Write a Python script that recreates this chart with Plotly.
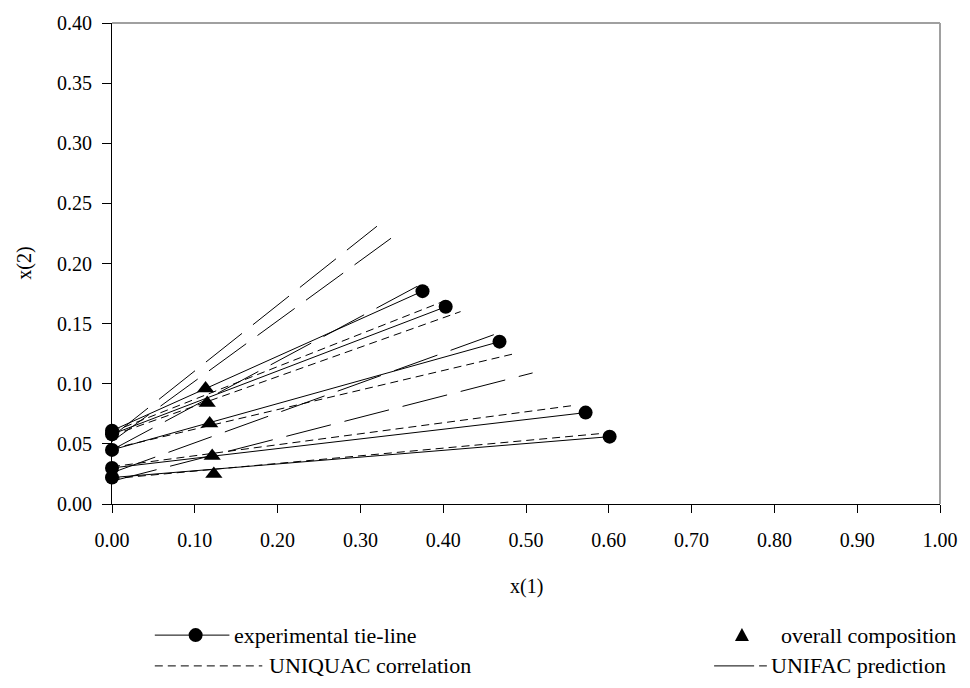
import plotly.graph_objects as go

# Experimental tie-lines: raffinate end (left) and extract end (right)
tie_x_left = [0.0, 0.0, 0.0, 0.0, 0.0]
tie_y_left = [0.061, 0.058, 0.045, 0.030, 0.022]
tie_x_right = [0.375, 0.403, 0.468, 0.572, 0.601]
tie_y_right = [0.177, 0.164, 0.135, 0.076, 0.056]

# Overall (feed) compositions
feed_x = [0.113, 0.115, 0.118, 0.121, 0.123]
feed_y = [0.096, 0.084, 0.067, 0.040, 0.025]

# UNIQUAC correlated tie-lines
uniquac_x_left = [0.0, 0.0, 0.0, 0.0, 0.0]
uniquac_y_left = [0.060, 0.057, 0.046, 0.031, 0.021]
uniquac_x_right = [0.402, 0.421, 0.486, 0.558, 0.597]
uniquac_y_right = [0.169, 0.160, 0.125, 0.082, 0.059]

# UNIFAC predicted tie-lines
unifac_x_left = [0.0, 0.0, 0.0, 0.0, 0.0]
unifac_y_left = [0.056, 0.052, 0.045, 0.026, 0.019]
unifac_x_right = [0.320, 0.337, 0.374, 0.462, 0.508]
unifac_y_right = [0.231, 0.221, 0.183, 0.141, 0.109]

x_ticks = [i / 10 for i in range(11)]
y_ticks = [i * 0.05 for i in range(9)]

FONT = "Liberation Serif"
FS_TICK = 20
FS_TITLE = 20
FS_LEGEND = 22

fig = go.Figure()

for xl, yl, xr, yr in zip(unifac_x_left, unifac_y_left, unifac_x_right, unifac_y_right):
    fig.add_trace(go.Scatter(x=[xl, xr], y=[yl, yr], mode="lines",
                             line=dict(color="black", width=1, dash="46px,14px"),
                             showlegend=False, hoverinfo="skip"))

for xl, yl, xr, yr in zip(uniquac_x_left, uniquac_y_left, uniquac_x_right, uniquac_y_right):
    fig.add_trace(go.Scatter(x=[xl, xr], y=[yl, yr], mode="lines",
                             line=dict(color="black", width=1, dash="8px,5px"),
                             showlegend=False, hoverinfo="skip"))

for xl, yl, xr, yr in zip(tie_x_left, tie_y_left, tie_x_right, tie_y_right):
    fig.add_trace(go.Scatter(x=[xl, xr], y=[yl, yr], mode="lines+markers",
                             line=dict(color="black", width=1),
                             marker=dict(symbol="circle", size=14, color="black"),
                             cliponaxis=False, showlegend=False, hoverinfo="skip"))

fig.add_trace(go.Scatter(x=feed_x, y=feed_y, mode="markers",
                         marker=dict(symbol="triangle-up", size=15, color="black"),
                         cliponaxis=False, showlegend=False, hoverinfo="skip"))

axis_common = dict(showgrid=False, zeroline=False, showline=True, linecolor="black",
                   linewidth=1, ticks="outside", tickcolor="black", tickwidth=1,
                   tickformat=".2f", tickfont=dict(family=FONT, size=FS_TICK, color="black"))

fig.update_xaxes(range=[0, 1], tickvals=x_ticks, ticklen=8, ticklabelstandoff=10,
                 **axis_common)
fig.update_yaxes(range=[0, 0.4], tickvals=y_ticks, ticklen=9, ticklabelstandoff=6,
                 **axis_common)

shapes = [
    # grey frame on top and right
    dict(type="line", xref="paper", yref="paper", x0=0, x1=1, y0=1, y1=1,
         line=dict(color="#a0a0a0", width=2)),
    dict(type="line", xref="paper", yref="paper", x0=1, x1=1, y0=0, y1=1,
         line=dict(color="#a0a0a0", width=2)),
]

# Legend drawn below the plot area
row1 = -0.2726
row2 = -0.3366
shapes += [
    dict(type="line", xref="paper", yref="paper", x0=0.0517, x1=0.1418, y0=row1, y1=row1,
         line=dict(color="black", width=1)),
    dict(type="circle", xref="paper", yref="paper", xsizemode="pixel", ysizemode="pixel",
         xanchor=0.101, yanchor=row1, x0=-7, x1=7, y0=-7, y1=7,
         fillcolor="black", line=dict(color="black", width=0)),
    dict(type="path", xref="paper", yref="paper", xsizemode="pixel", ysizemode="pixel",
         xanchor=0.7608, yanchor=row1, path="M -7,-6 L 7,-6 L 0,7 Z",
         fillcolor="black", line=dict(color="black", width=0)),
    dict(type="line", xref="paper", yref="paper", x0=0.0517, x1=0.1815, y0=row2, y1=row2,
         line=dict(color="black", width=1, dash="8px,5px")),
    dict(type="line", xref="paper", yref="paper", x0=0.7272, x1=0.7909, y0=row2, y1=row2,
         line=dict(color="black", width=1, dash="40px,5px")),
]

legend_text = [
    (0.1454, row1, "experimental tie-line"),
    (0.8050, row1, "overall composition"),
    (0.1875, row2, "UNIQUAC correlation"),
    (0.7933, row2, "UNIFAC prediction"),
]
annotations = [
    dict(x=x, y=y, xref="paper", yref="paper", text=t, showarrow=False,
         xanchor="left", yanchor="middle", font=dict(family=FONT, size=FS_LEGEND, color="black"))
    for x, y, t in legend_text
]

# Axis titles
annotations += [
    dict(x=0.5, y=-0.1714, xref="paper", yref="paper", text="x(1)", showarrow=False,
         xanchor="center", yanchor="middle", font=dict(family=FONT, size=FS_TITLE, color="black")),
    dict(x=-0.1060, y=0.5, xref="paper", yref="paper", text="x(2)", showarrow=False,
         textangle=-90, xanchor="center", yanchor="middle",
         font=dict(family=FONT, size=FS_TITLE, color="black")),
]

fig.update_layout(
    width=970, height=688,
    margin=dict(l=112, r=26, t=20, b=184),
    paper_bgcolor="white", plot_bgcolor="white",
    font=dict(family=FONT, color="black"),
    shapes=shapes, annotations=annotations,
    showlegend=False,
)

fig.write_html("out.html")
